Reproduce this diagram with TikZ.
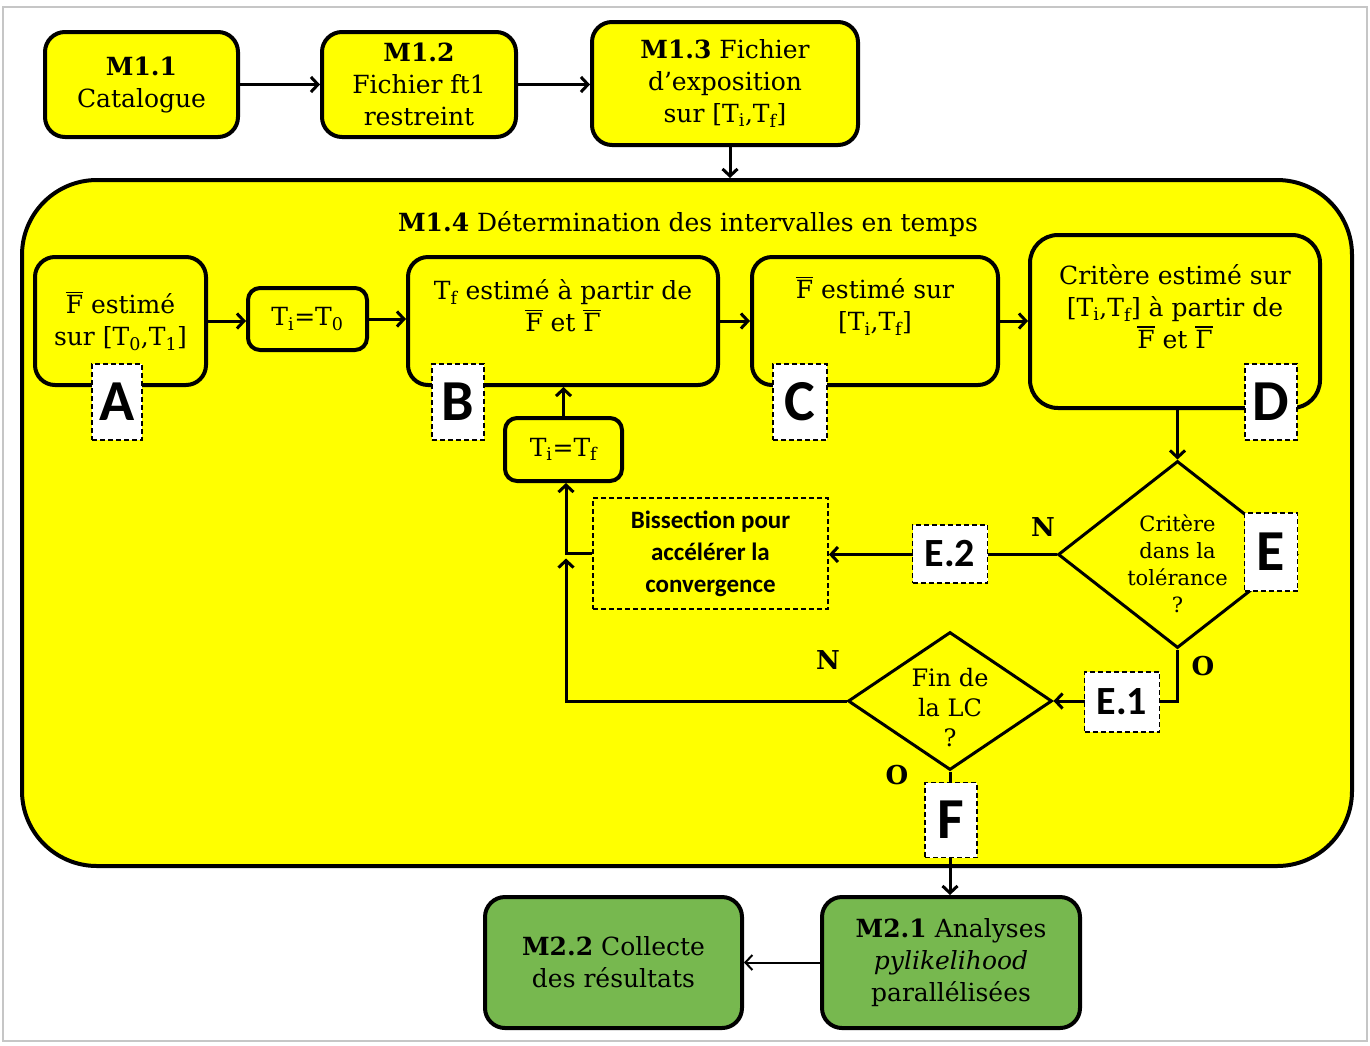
\documentclass[tikz,border=0pt]{standalone}
\usepackage{fontspec}
\setmainfont{DejaVu Serif}
\newfontfamily\carl{Carlito}
\usetikzlibrary{arrows.meta,shapes.geometric,calc}
\newcommand\ovl[1]{\setbox0\hbox{#1}\rlap{\raisebox{\dimexpr\ht0+2.5pt\relax}{\rule{\wd0}{1.4pt}}}\box0\relax}
\newcommand\Ts[1]{T\textsubscript{#1}}
\definecolor{ylw}{HTML}{FFFF00}
\definecolor{grn}{HTML}{77B84F}
\tikzset{
 ybox/.style={draw, line width=4pt, rounded corners=20pt, fill=ylw, align=center, inner sep=0pt, font=\fontsize{25}{32}\selectfont},
 gbox/.style={ybox, fill=grn},
 txt/.style={align=center, inner sep=0pt, font=\fontsize{25}{32}\selectfont},
 lab/.style={draw, dash pattern=on 5pt off 3pt, line width=1.8pt, fill=white, inner sep=0pt, font=\carl\bfseries\fontsize{58}{58}\selectfont},
 labs/.style={lab, font=\carl\bfseries\fontsize{40}{40}\selectfont},
 dia/.style={diamond, draw, line width=3pt, fill=ylw, inner sep=0pt},
 conn/.style={line width=3pt, -{Straight Barb[length=7pt,width=15pt,line width=3pt]}},
 yn/.style={inner sep=0pt, font=\bfseries\fontsize{26}{26}\selectfont},
}
\begin{document}
\begin{tikzpicture}[x=1pt,y=-1pt]
\useasboundingbox (0,0) rectangle (1370,1045);
\draw[gray!45, line width=1.5pt] (3,7) rectangle (1367,1041);

% top row
\node[ybox, minimum width=193, minimum height=105] (m11) at (141.5,84.5) {\textbf{M1.1}\\Catalogue};
\node[ybox, minimum width=194, minimum height=105] (m12) at (419,84.5) {\textbf{M1.2}\\Fichier ft1\\restreint};
\node[ybox, minimum width=266, minimum height=123] (m13) at (725,83.5) {\textbf{M1.3} Fichier\\d'exposition\\sur [\Ts{i},\Ts{f}]};

% big box
\node[draw, line width=4pt, rounded corners=75pt, fill=ylw, minimum width=1330, minimum height=686] (m14) at (687,523) {};
\node[txt] (t14) at (688,224) {\textbf{M1.4} Détermination des intervalles en temps};

% inner boxes
\node[ybox, minimum width=171, minimum height=128] (A) at (120.5,321) {\ovl{F} estimé\\sur [\Ts{0},\Ts{1}]};
\node[ybox, rounded corners=12pt, minimum width=119, minimum height=62] (T0) at (307.5,319) {\Ts{i}=\Ts{0}};
\node[ybox, minimum width=310, minimum height=128] (B) at (563,321) {};
\node[txt] (Bt) at ([yshift=15pt]B.center) {\Ts{f} estimé à partir de\\\ovl{F} et \ovl{Γ}};
\node[ybox, minimum width=246, minimum height=128] (C) at (875,321) {};
\node[txt] (Ct) at ([yshift=15pt]C.center) {\ovl{F} estimé sur\\{}[\Ts{i},\Ts{f}]};
\node[ybox, rounded corners=28pt, minimum width=290, minimum height=173] (D) at (1175,321.5) {};
\node[txt] (Dt) at ([yshift=15pt]D.center) {Critère estimé sur\\{}[\Ts{i},\Ts{f}] à partir de\\\ovl{F} et \ovl{Γ}};
\node[ybox, rounded corners=12pt, minimum width=117, minimum height=63] (Tf) at (563.5,449.5) {\Ts{i}=\Ts{f}};

\node[draw, dash pattern=on 5pt off 3pt, line width=1.8pt, minimum width=235, minimum height=111, inner sep=0pt, align=center, font=\carl\bfseries\fontsize{25}{32}\selectfont] (bis) at (710.5,553.5) {Bissection pour\\accélérer la\\convergence};

% diamonds
\node[dia, minimum width=239, minimum height=187] (E) at (1177.5,554.5) {};
\node[align=center, inner sep=0pt, font=\fontsize{21}{27}\selectfont] (Et) at (1177.5,564) {Critère\\dans la\\tolérance\\?};
\node[dia, minimum width=204, minimum height=138] (Fd) at (950,701) {};
\node[align=center, inner sep=0pt, font=\fontsize{24}{30}\selectfont] (Ft) at (950,708) {Fin de\\la LC\\?};

% bottom row
\node[gbox, minimum width=258, minimum height=131] (m21) at (951,962.5) {\textbf{M2.1} Analyses\\\textit{pylikelihood}\\parallélisées};
\node[gbox, minimum width=257, minimum height=131] (m22) at (613.5,962.5) {\textbf{M2.2} Collecte\\des résultats};

% connectors
\draw[conn] (m11.east) -- (m12.west);
\draw[conn] (m12.east) -- (m12.east -| m13.west);
\draw[conn] ([xshift=5pt]m13.south) -- ([xshift=5pt]m13.south |- m14.north);
\draw[conn] (A.east) -- (A.east -| T0.west);
\draw[conn] (T0.east) -- (T0.east -| B.west);
\draw[conn] (B.east) -- (B.east -| C.west);
\draw[conn] (C.east) -- (C.east -| D.west);
\draw[conn] (E.north |- D.south) -- (E.north);
\draw[conn] (E.west) -- (E.west -| bis.east);
\coordinate (j) at ([xshift=2.5pt]Tf.south |- bis.west);
\draw[conn] (bis.west) -- (j) -- ([xshift=2.5pt]Tf.south);
\draw[conn] (Fd.west) -| ($(j)+(0,5)$);
\draw[conn] (Tf.north) -- (Tf.north |- B.south);
\draw[conn] (E.south) |- (Fd.east);
\draw[conn] (Fd.south) -- (Fd.south |- m21.north);
\draw[line width=2pt, -{Straight Barb[length=7pt,width=15pt,line width=2pt]}] (m21.west) -- (m22.east);

% Y/N
\node[yn] (n1) at (1043,527) {N};
\node[yn] (o1) at (1203,666) {O};
\node[yn] (n2) at (828,660) {N};
\node[yn] (o2) at (897,775) {O};

% labels
\node[lab, minimum width=50, minimum height=76] (la) at (117,402) {A};
\node[lab, minimum width=52, minimum height=76] (lb) at (458,402) {B};
\node[lab, minimum width=54, minimum height=76] (lc) at (800,402) {C};
\node[lab, minimum width=52, minimum height=76] (ld) at (1271,402) {D};
\node[lab, minimum width=53, minimum height=78] (le) at (1271,552) {E};
\node[labs, minimum width=75, minimum height=58] (le2) at (950,554) {E.2};
\node[labs, minimum width=75, minimum height=60] (le1) at (1122,702) {E.1};
\node[lab, minimum width=52, minimum height=75] (lf) at (951,820) {F};
\end{tikzpicture}
\end{document}
